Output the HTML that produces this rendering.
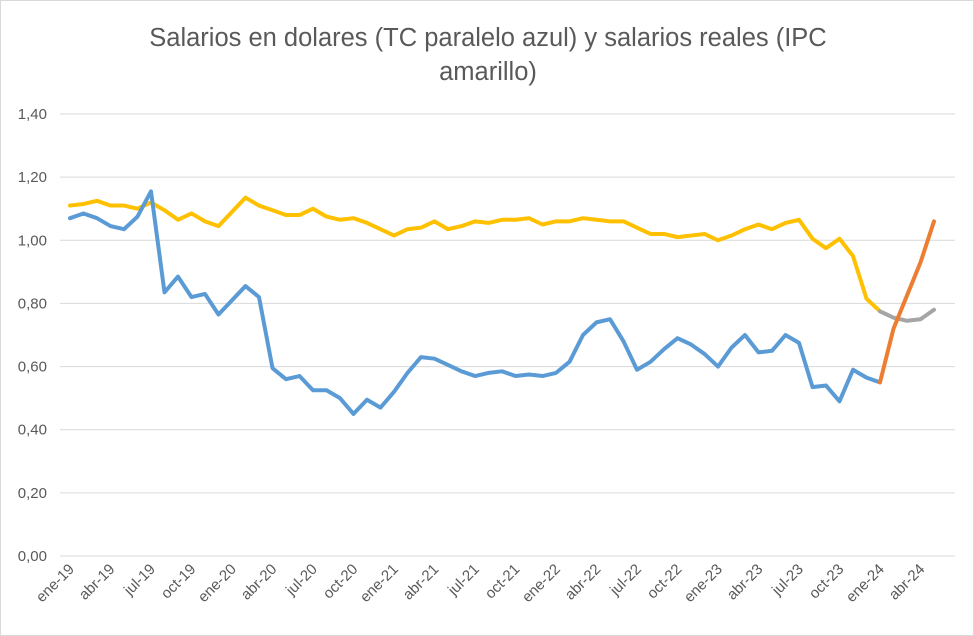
<!DOCTYPE html>
<html><head><meta charset="utf-8"><style>
body{margin:0;background:#fff}
svg{display:block;font-family:"Liberation Sans",sans-serif}
</style></head><body>
<svg id="s" width="974" height="636" xmlns="http://www.w3.org/2000/svg">
<rect x="0.5" y="0.5" width="973" height="635" fill="#fff" stroke="#d9d9d9"/>
<text x="488" y="46" text-anchor="middle" font-size="25.5" fill="#595959">Salarios en dolares (TC paralelo azul) y salarios reales (IPC</text>
<text x="488" y="80" text-anchor="middle" font-size="25.5" fill="#595959">amarillo)</text>
<g id="g"></g>
</svg>
<script>
const g=document.getElementById('g');
const Y=v=>556-v*(442/1.4), X=i=>70+13.5*i;
let h='';
for(let k=0;k<=7;k++){const y=Y(k*0.2);h+=`<line x1="60" x2="955" y1="${y}" y2="${y}" stroke="#d9d9d9" stroke-width="1"/>`;
h+=`<text x="47" y="${y+5}" text-anchor="end" font-size="15" fill="#595959">${(k*0.2).toFixed(2).replace('.',',')}</text>`;}
const lab=['ene','abr','jul','oct'];
for(let i=0;i<=64;i+=3){const yr=19+Math.floor(i/12);const x=X(i)+5;
h+=`<text transform="translate(${x},570) rotate(-45)" text-anchor="end" font-size="15" fill="#595959">${lab[(i%12)/3]}-${yr}</text>`;}
const blue=[1.07,1.085,1.07,1.045,1.035,1.075,1.155,0.835,0.885,0.82,0.83,0.765,0.81,0.855,0.82,0.595,0.56,0.57,0.525,0.525,0.50,0.45,0.495,0.47,0.52,0.58,0.63,0.625,0.605,0.585,0.57,0.58,0.585,0.57,0.575,0.57,0.58,0.615,0.70,0.74,0.75,0.68,0.59,0.615,0.655,0.69,0.67,0.64,0.60,0.66,0.70,0.645,0.65,0.70,0.675,0.535,0.54,0.49,0.59,0.565,0.55];
const yel=[1.11,1.115,1.125,1.11,1.11,1.10,1.12,1.095,1.065,1.085,1.06,1.045,1.09,1.135,1.11,1.095,1.08,1.08,1.10,1.075,1.065,1.07,1.055,1.035,1.015,1.035,1.04,1.06,1.035,1.045,1.06,1.055,1.065,1.065,1.07,1.05,1.06,1.06,1.07,1.065,1.06,1.06,1.04,1.02,1.02,1.01,1.015,1.02,1.00,1.015,1.035,1.05,1.035,1.055,1.065,1.005,0.975,1.005,0.95,0.815,0.775];
const pl=(a,o,c)=>`<polyline fill="none" stroke="${c}" stroke-width="4" stroke-linejoin="round" stroke-linecap="round" points="${a.map((v,i)=>X(i+o)+','+Y(v)).join(' ')}"/>`;
h+=pl(yel,0,'#ffc000');
h+=pl([0.775,0.755,0.745,0.75,0.78],60,'#a5a5a5');
h+=pl(blue,0,'#5b9bd5');
h+=pl([0.55,0.72,0.825,0.93,1.06],60,'#ed7d31');
g.innerHTML=h;
</script>
</body></html>
